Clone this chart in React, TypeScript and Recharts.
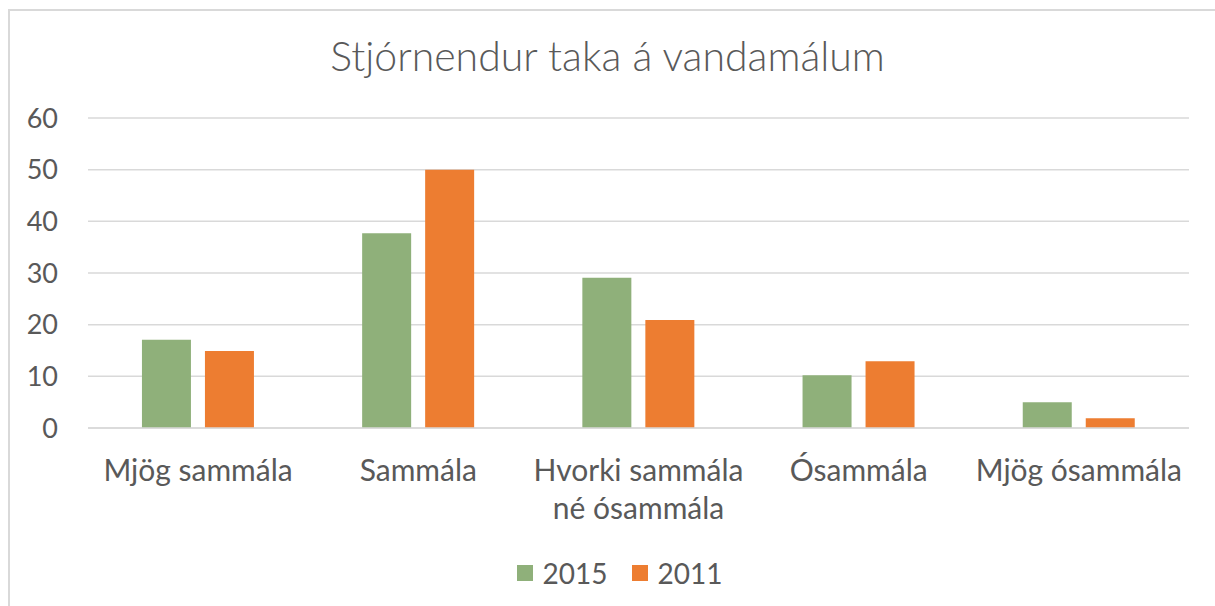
import { Bar, BarChart, CartesianGrid, Legend, XAxis, YAxis } from "recharts"

const categories = ["Mjög sammála", "Sammála", "Hvorki sammála\nné ósammála", "Ósammála", "Mjög ósammála"]
const values2015 = [17.1, 37.7, 29.1, 10.2, 5.0]
const values2011 = [14.9, 50, 20.9, 12.9, 1.9]
const yTicks = [0, 10, 20, 30, 40, 50, 60]
const seriesNames = ["2015", "2011"]
const seriesColors = ["#8FB07A", "#ED7D31"]

const data = categories.map((name, i) => ({ name, y2015: values2015[i], y2011: values2011[i] }))

const font = "Lato, 'Open Sans', sans-serif"
const textColor = "#595959"

function CategoryTick(props: any) {
  const { x, y, payload } = props
  const lines = String(payload.value).split("\n")
  return (
    <text x={x} y={y} textAnchor="middle" fill={textColor} fontFamily={font} fontSize={30}>
      {lines.map((line: string, i: number) => (
        <tspan key={i} x={x} dy={i === 0 ? 45 : 38}>{line}</tspan>
      ))}
    </text>
  )
}

function LegendContent() {
  return (
    <div style={{ display: "flex", justifyContent: "center", alignItems: "center", paddingTop: 8, paddingLeft: 50, fontFamily: font, fontSize: 28, color: textColor }}>
      {seriesNames.map((n, i) => (
        <div key={n} style={{ display: "flex", alignItems: "center", marginLeft: i ? 24 : 0 }}>
          <span style={{ display: "inline-block", width: 16, height: 16, background: seriesColors[i], marginRight: 10 }} />
          <span>{n}</span>
        </div>
      ))}
    </div>
  )
}

export default function App() {
  return (
    <div style={{ position: "absolute", left: 0, top: 0, width: 1215, height: 606, background: "#fff" }}>
      <div style={{ position: "absolute", left: 8, top: 9, right: 0, bottom: -2, borderTop: "2px solid #d9d9d9", borderLeft: "2px solid #d9d9d9" }} />
      <div style={{ position: "absolute", left: 0, width: 1215, top: 31, textAlign: "center", fontFamily: font, fontSize: 41, fontWeight: 300, color: textColor }}>
        Stjórnendur taka á vandamálum
      </div>
      <BarChart
        width={1215}
        height={606}
        data={data}
        margin={{ top: 118, right: 26, left: 0, bottom: 10 }}
        barCategoryGap="24.5%"
        barGap={14}
        style={{ position: "absolute", left: 0, top: 0 }}
      >
        <CartesianGrid stroke="#d9d9d9" strokeWidth={1.5} vertical={false} />
        <XAxis dataKey="name" height={120} tickLine={false} axisLine={{ stroke: "#d9d9d9", strokeWidth: 1.5 }} tick={<CategoryTick />} interval={0} />
        <YAxis
          width={88}
          domain={[0, 60]}
          ticks={yTicks}
          tickLine={false}
          axisLine={false}
          tickSize={0}
          tickMargin={30}
          tick={{ fill: textColor, fontFamily: font, fontSize: 27 }}
        />
        <Legend verticalAlign="bottom" height={48} content={<LegendContent />} />
        <Bar dataKey="y2015" name={seriesNames[0]} fill={seriesColors[0]} isAnimationActive={false} />
        <Bar dataKey="y2011" name={seriesNames[1]} fill={seriesColors[1]} isAnimationActive={false} />
      </BarChart>
    </div>
  )
}
